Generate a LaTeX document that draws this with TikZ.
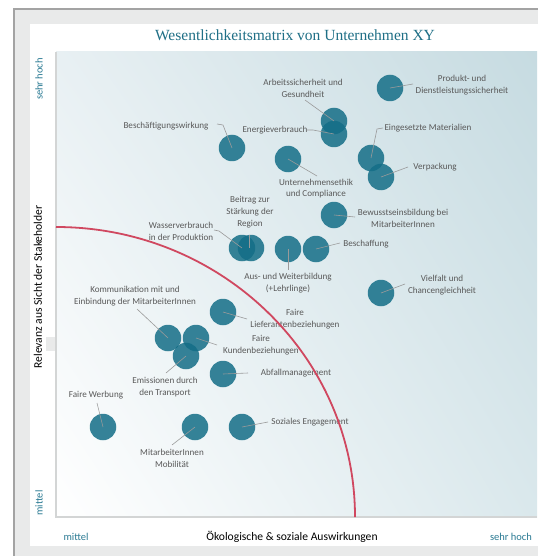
\documentclass[tikz,border=0pt]{standalone}
\usepackage{fontspec}
\usetikzlibrary{shadings}
\setmainfont{Carlito}
\newfontfamily\titlefont{Liberation Serif}
\definecolor{tealtxt}{HTML}{2A7A93}
\definecolor{titlec}{HTML}{1F6F86}
\definecolor{dotc}{RGB}{20,110,135}
\definecolor{labc}{HTML}{595959}
\definecolor{leadc}{HTML}{9A9A9A}
\definecolor{redc}{RGB}{208,72,96}
\definecolor{framec}{HTML}{A3A3A3}
\definecolor{bgc}{HTML}{E9EAEA}
\definecolor{axc}{HTML}{D3D5D5}
\definecolor{gUR}{HTML}{C6DBE1}
\definecolor{gUL}{HTML}{E8F0F3}
\definecolor{gLR}{HTML}{DAE8EC}
\begin{document}
\begin{tikzpicture}[x=1pt,y=-1pt,
  dot/.style={circle, fill=dotc, fill opacity=0.85, draw=none, minimum size=26.5pt, inner sep=0pt},
  lbl/.style={font=\fontsize{9.1}{11.8}\selectfont, text=labc, align=center, inner sep=0pt},
  lead/.style={draw=leadc, line width=0.6pt},
  axlbl/.style={font=\fontsize{11.6}{13}\selectfont, inner sep=0pt},
  tealtx/.style={font=\fontsize{10.5}{12}\selectfont, text=tealtxt, inner sep=0pt}]
\useasboundingbox (0,0) rectangle (538,556);
% frame
\fill[bgc] (14,9) rectangle (538,556);
\draw[framec, line width=2.4pt] (14,556) -- (14,9) -- (538,9);
\fill[white] (30,24) rectangle (538,546);
% plot area
\shade[lower left=white, lower right=gLR, upper left=gUL, upper right=gUR] (56,52) rectangle (537,517);
\draw[axc, line width=1.4pt] (56,52) -- (56,517) -- (537,517);
\fill[bgc] (46,337) rectangle (55.3,351);
% title
\node[font=\titlefont\fontsize{15.5}{18}\selectfont, text=titlec, inner sep=0pt] (title) at (295,35) {Wesentlichkeitsmatrix von Unternehmen XY};
% axis labels
\node[axlbl, rotate=90] (ylab) at (38,287) {Relevanz aus Sicht der Stakeholder};
\node[tealtx, rotate=90] (yhi) at (39,79) {sehr hoch};
\node[tealtx, rotate=90] (ylo) at (39,503) {mittel};
\node[axlbl] (xlab) at (292,537) {Ökologische \& soziale Auswirkungen};
\node[tealtx] (xlo) at (76,537) {mittel};
\node[tealtx] (xhi) at (511,537) {sehr hoch};
% circles
\node[dot] (prod) at (390,88) {};
\node[dot] (arb) at (334,121) {};
\node[dot] (ene) at (334,134) {};
\node[dot] (besch) at (232,148) {};
\node[dot] (unt) at (288,159) {};
\node[dot] (mat) at (371,158) {};
\node[dot] (verp) at (381,177) {};
\node[dot] (bew) at (334,215) {};
\node[dot] (wass) at (242,248) {};
\node[dot] (beit) at (251,248) {};
\node[dot] (aus) at (288,249) {};
\node[dot] (bes) at (316,249) {};
\node[dot] (viel) at (381,293) {};
\node[dot] (lief) at (223,312) {};
\node[dot] (komm) at (168,338) {};
\node[dot] (kund) at (196,338) {};
\node[dot] (emis) at (186,356) {};
\node[dot] (abf) at (223,374) {};
\node[dot] (werb) at (103,427) {};
\node[dot] (mob) at (195,427) {};
\node[dot] (soz) at (242,427) {};
% labels
\node[lbl] (prodL) at (462,85) {Produkt- und\\Dienstleistungssicherheit};
\node[lbl] (arbL) at (303,88) {Arbeitssicherheit und\\Gesundheit};
\node[lbl] (eneL) at (275,130) {Energieverbrauch};
\node[lbl] (beschL) at (166,126) {Beschäftigungswirkung};
\node[lbl] (untL) at (316,188.5) {Unternehmensethik\\und Compliance};
\node[lbl] (matL) at (428,128) {Eingesetzte Materialien};
\node[lbl] (verpL) at (435,167) {Verpackung};
\node[lbl] (bewL) at (403,218.5) {Bewusstseinsbildung bei\\MitarbeiterInnen};
\node[lbl] (wassL) at (181,231) {Wasserverbrauch\\in der Produktion};
\node[lbl] (beitL) at (250,212) {Beitrag zur\\Stärkung der\\Region};
\node[lbl] (ausL) at (288,283.5) {Aus- und Weiterbildung\\(+Lehrlinge)};
\node[lbl] (besL) at (366,244) {Beschaffung};
\node[lbl] (vielL) at (442,285) {Vielfalt und\\Chancengleichheit};
\node[lbl] (liefL) at (295,319) {Faire\\Lieferantenbeziehungen};
\node[lbl] (kommL) at (135,296) {Kommunikation mit und\\Einbindung der MitarbeiterInnen};
\node[lbl] (kundL) at (261,345.5) {Faire\\Kundenbeziehungen};
\node[lbl] (emisL) at (165,387) {Emissionen durch\\den Transport};
\node[lbl] (abfL) at (296,373) {Abfallmanagement};
\node[lbl] (werbL) at (96,395) {Faire Werbung};
\node[lbl] (mobL) at (172,458) {MitarbeiterInnen\\Mobilität};
\node[lbl] (sozL) at (310,422) {Soziales Engagement};
% leader end points
\coordinate (prodE) at (413,84);
\coordinate (arbE) at (305,100);
\coordinate (eneE) at (307,130);
\coordinate (eneK) at (313,130);
\coordinate (beschE) at (217,124);
\coordinate (beschK) at (223,125);
\coordinate (untE) at (317,176);
\coordinate (matE) at (383,128);
\coordinate (matK) at (377,129);
\coordinate (verpE) at (408,167);
\coordinate (bewE) at (355,217);
\coordinate (wassE) at (214,230);
\coordinate (wassK) at (219,231);
\coordinate (beitE) at (249,235);
\coordinate (beitK) at (249,248);
\coordinate (ausE) at (288,270);
\coordinate (besE) at (340,243);
\coordinate (vielE) at (405,284);
\coordinate (liefE) at (247,319);
\coordinate (kommE) at (137,309);
\coordinate (kundE) at (217,345);
\coordinate (emisE) at (166,373);
\coordinate (abfE) at (248,373);
\coordinate (werbE) at (97,403);
\coordinate (mobE) at (172,445);
\coordinate (sozE) at (268,422);
% leaders
\draw[lead] (prod.center) -- (prodE);
\draw[lead] (arbE) -- (arb.center);
\draw[lead] (eneE) -- (eneK) -- (ene.center);
\draw[lead] (beschE) -- (beschK) -- (besch.center);
\draw[lead] (unt.center) -- (untE);
\draw[lead] (mat.center) -- (matK) -- (matE);
\draw[lead] (verp.center) -- (verpE);
\draw[lead] (bew.center) -- (bewE);
\draw[lead] (wassE) -- (wassK) -- (wass.center);
\draw[lead] (beitE) -- (beitK);
\draw[lead] (aus.center) -- (ausE);
\draw[lead] (bes.center) -- (besE);
\draw[lead] (viel.center) -- (vielE);
\draw[lead] (lief.center) -- (liefE);
\draw[lead] (kommE) -- (komm.center);
\draw[lead] (kund.center) -- (kundE);
\draw[lead] (emisE) -- (emis.center);
\draw[lead] (abf.center) -- (abfE);
\draw[lead] (werbE) -- (werb.center);
\draw[lead] (mobE) -- (mob.center);
\draw[lead] (soz.center) -- (sozE);
% materiality threshold
\coordinate (rA) at (56,227);
\draw[redc, line width=1.8pt] (rA) arc[start angle=-90, end angle=0, x radius=299, y radius=290];
\end{tikzpicture}
\end{document}
